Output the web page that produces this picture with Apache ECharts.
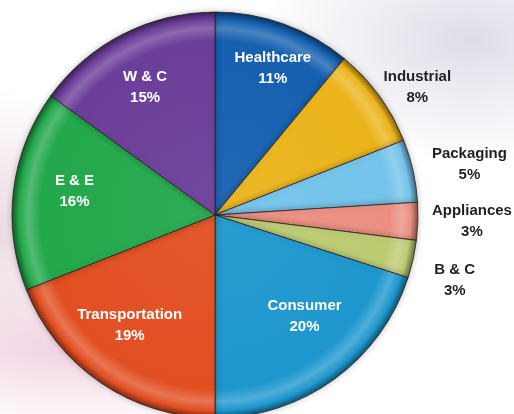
<!DOCTYPE html>
<html><head><meta charset="utf-8">
<script src="https://cdn.jsdelivr.net/npm/echarts@6/dist/echarts.min.js"></script>
<style>
html,body{margin:0;padding:0;}
body{width:514px;height:414px;overflow:hidden;
background:
 radial-gradient(ellipse 230px 80px at 70px 350px, rgba(238,200,218,0.8), rgba(255,255,255,0) 100%),
 radial-gradient(ellipse 210px 120px at 470px 40px, rgba(218,218,230,0.9), rgba(255,255,255,0) 100%),
 radial-gradient(ellipse 130px 140px at 0px 230px, rgba(232,212,222,0.85), rgba(255,255,255,0) 100%),
 #ffffff;}
#c{width:514px;height:414px;}
</style></head>
<body><div id="c"></div>
<script>
const categories = ['Healthcare','Industrial','Packaging','Appliances','B & C','Consumer','Transportation','E & E','W & C'];
const values = [11, 8, 5, 3, 3, 20, 19, 16, 15];
const colors = ['#1660B0','#EBB41C','#74C3EA','#EC8F82','#BCCB72','#1E97CE','#E24F22','#23A84B','#6B3E99'];
const insideLabel = [true,false,false,false,false,true,true,true,true];
// label line geometry (radial length, horizontal length) per slice
const lineLen = [-47, 15, 29, 0, 97, -78, -69, -11, -60];
const lineLen2 = [5, 26, 28, 54, -53, 16, 10, -50, 5];

const cx = 215, cy = 215, R = 203;
function shade(hex, f){
  const n = parseInt(hex.slice(1),16);
  let r=(n>>16)&255,g=(n>>8)&255,b=n&255;
  if(f>=0){r=r+(255-r)*f;g=g+(255-g)*f;b=b+(255-b)*f;}
  else{r=r*(1+f);g=g*(1+f);b=b*(1+f);}
  return 'rgb('+Math.round(r)+','+Math.round(g)+','+Math.round(b)+')';
}
const data = categories.map((name,i)=>({
  name, value: values[i],
  itemStyle:{
    color:{type:'radial',x:cx,y:cy,r:R,global:true,colorStops:[
      {offset:0,color:shade(colors[i],0.05)},
      {offset:0.86,color:colors[i]},
      {offset:0.92,color:shade(colors[i],0.22)},
      {offset:0.965,color:colors[i]},
      {offset:1,color:shade(colors[i],-0.45)}
    ]}
  },
  label:{color: insideLabel[i] ? '#ffffff' : '#231f20'},
  labelLine:{show:false,length:lineLen[i],length2:lineLen2[i]}
}));

const chart = echarts.init(document.getElementById('c'), null, {renderer:'canvas'});
chart.setOption({
  animation:false,
  series:[{
    type:'pie',
    center:[cx,cy],
    radius:[0,R],
    startAngle:90,
    clockwise:true,
    avoidLabelOverlap:false,
    silent:true,
    itemStyle:{borderColor:'rgba(40,30,30,0.75)',borderWidth:1,
      shadowColor:'rgba(0,0,0,0.25)',shadowBlur:6},
    label:{show:true,position:'outside',distanceToLabelLine:0,
      fontFamily:'"Liberation Sans",Arial,sans-serif',
      fontWeight:'bold',fontSize:15,lineHeight:21,
      formatter:p=>p.name+'\n'+p.value+'%'},
    labelLayout:()=>({align:'center',verticalAlign:'middle'}),
    data
  }]
});
</script></body></html>
